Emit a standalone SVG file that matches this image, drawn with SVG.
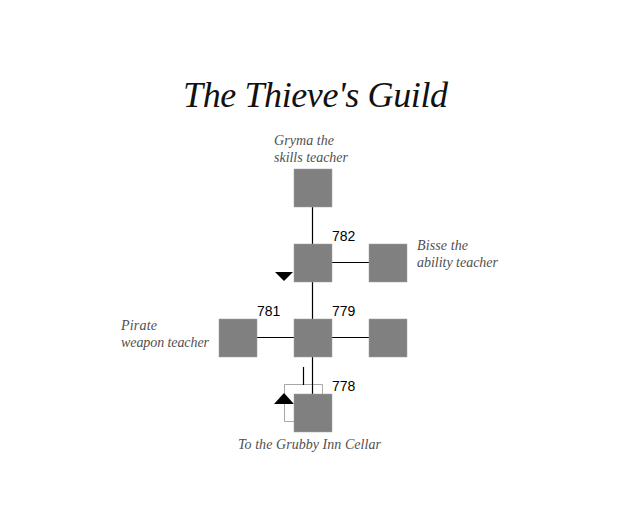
<svg xmlns="http://www.w3.org/2000/svg" width="620" height="516" viewBox="0 0 620 516">
<style>
.n{fill:#808080;stroke:#a0a0a0;stroke-width:.5}
.c{stroke:#000;stroke-width:1.2;fill:none}
.s{stroke:#a8a8a8;stroke-width:1;fill:none}
.t{font-family:"Liberation Serif",serif;font-style:italic;font-size:14px;fill:#505050}
.h{font-family:"Liberation Serif",serif;font-style:italic;font-size:36px;fill:#111}
.l{font-family:"Liberation Sans",Arial,sans-serif;font-size:14px;fill:#000}
</style>
<rect width="620" height="516" fill="#fff"/>
<text class="h" x="183" y="107" textLength="265" lengthAdjust="spacing">The Thieve's Guild</text>
<g id="connectors">
<path class="s" d="M294.500 384.500H284.500V421.500H294.500M284.500 384.500H322.500V394"/>
<path class="c" d="M312.500 207V244M312.500 282V319M312.500 357V394M332 262.500H369M257 337.500H294M332 337.500H369M303.500 367V385"/>
</g>
<g id="marker-down"><polygon points="275,272 293,272 284,281" fill="#000"/></g>
<g id="marker-up"><polygon points="274,404 294,404 284,393" fill="#000"/></g>
<g id="n-grymas"><rect class="n" x="294" y="169" width="38" height="38"/><text class="t" x="274" y="145" textLength="60">Gryma the</text><text class="t" x="274" y="162" textLength="74">skills teacher</text></g>
<g id="n-782"><rect class="n" x="294" y="244" width="38" height="38"/><text class="l" x="332" y="241">782</text></g>
<g id="n-bisse"><rect class="n" x="369" y="244" width="38" height="38"/><text class="t" x="417" y="250" textLength="51">Bisse the</text><text class="t" x="417" y="267" textLength="81">ability teacher</text></g>
<g id="n-781"><rect class="n" x="219" y="319" width="38" height="38"/><text class="l" x="257" y="316">781</text><text class="t" x="121" y="330" textLength="36">Pirate</text><text class="t" x="121" y="347" textLength="88">weapon teacher</text></g>
<g id="n-779"><rect class="n" x="294" y="319" width="38" height="38"/><text class="l" x="332" y="316">779</text></g>
<g id="n-east"><rect class="n" x="369" y="319" width="38" height="38"/></g>
<g id="n-778"><rect class="n" x="294" y="394" width="38" height="38"/><text class="l" x="332" y="391">778</text><text class="t" x="238" y="449" textLength="143">To the Grubby Inn Cellar</text></g>
</svg>
